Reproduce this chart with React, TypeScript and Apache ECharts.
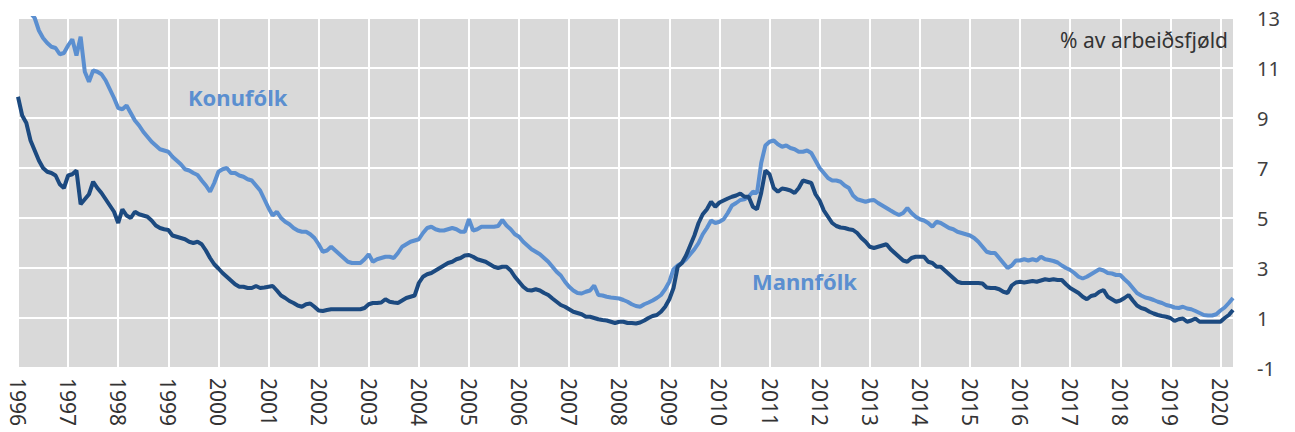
import React, { useEffect, useRef } from "react";
import * as echarts from "echarts";

const startYear = 1996;
const monthCount = 292;
const yTicks = [-1, 1, 3, 5, 7, 9, 11, 13];

const women: number[] = [
  // 1996
  14.4, 14.0, 13.6, 13.2, 13.0, 12.5, 12.2, 12.0, 11.85, 11.8, 11.55, 11.6,
  // 1997
  11.9, 12.15, 11.5, 12.25, 10.85, 10.45, 10.9, 10.85, 10.75, 10.5, 10.15, 9.8,
  // 1998
  9.4, 9.35, 9.5, 9.2, 8.9, 8.7, 8.45, 8.25, 8.05, 7.9, 7.75, 7.7,
  // 1999
  7.65, 7.45, 7.3, 7.15, 6.95, 6.9, 6.8, 6.72, 6.5, 6.3, 6.05, 6.4,
  // 2000
  6.85, 6.95, 7.0, 6.8, 6.8, 6.7, 6.65, 6.55, 6.5, 6.3, 6.1, 5.75,
  // 2001
  5.4, 5.1, 5.25, 5.0, 4.85, 4.75, 4.6, 4.5, 4.45, 4.45, 4.35, 4.2,
  // 2002
  3.95, 3.65, 3.7, 3.85, 3.7, 3.55, 3.4, 3.25, 3.2, 3.2, 3.2, 3.35,
  // 2003
  3.55, 3.25, 3.35, 3.4, 3.45, 3.45, 3.4, 3.6, 3.85, 3.95, 4.05, 4.1,
  // 2004
  4.15, 4.4, 4.6, 4.65, 4.55, 4.5, 4.5, 4.55, 4.6, 4.55, 4.45, 4.45,
  // 2005
  4.95, 4.5, 4.55, 4.65, 4.65, 4.65, 4.65, 4.68, 4.92, 4.7, 4.55, 4.35,
  // 2006
  4.25, 4.05, 3.9, 3.75, 3.65, 3.55, 3.4, 3.25, 3.05, 2.85, 2.7, 2.45,
  // 2007
  2.25, 2.1, 2.0, 1.98, 2.05, 2.1, 2.3, 1.92, 1.9, 1.85, 1.82, 1.8,
  // 2008
  1.78, 1.72, 1.65, 1.55, 1.48, 1.45, 1.55, 1.62, 1.7, 1.8, 1.92, 2.15,
  // 2009
  2.45, 2.95, 3.1, 3.2, 3.35, 3.55, 3.75, 4.0, 4.35, 4.6, 4.9, 4.8,
  // 2010
  4.85, 4.95, 5.2, 5.5, 5.6, 5.72, 5.75, 5.85, 6.05, 6.0, 7.2, 7.9,
  // 2011
  8.05, 8.1, 7.95, 7.85, 7.9, 7.8, 7.75, 7.65, 7.65, 7.7, 7.6, 7.3,
  // 2012
  7.0, 6.8, 6.6, 6.5, 6.5, 6.45, 6.3, 6.2, 5.9, 5.75, 5.7, 5.65,
  // 2013
  5.7, 5.72, 5.6, 5.5, 5.4, 5.3, 5.2, 5.12, 5.2, 5.4, 5.2, 5.05,
  // 2014
  4.95, 4.9, 4.8, 4.65, 4.85, 4.8, 4.7, 4.6, 4.55, 4.45, 4.4, 4.35,
  // 2015
  4.3, 4.2, 4.05, 3.85, 3.65, 3.6, 3.6, 3.4, 3.2, 3.0, 3.1, 3.3,
  // 2016
  3.3, 3.35, 3.3, 3.35, 3.3, 3.45, 3.35, 3.32, 3.28, 3.22, 3.1, 3.0,
  // 2017
  2.92, 2.8, 2.65, 2.58, 2.65, 2.75, 2.85, 2.95, 2.9, 2.8, 2.78, 2.72,
  // 2018
  2.72, 2.55, 2.4, 2.2, 2.0, 1.9, 1.82, 1.78, 1.72, 1.65, 1.6, 1.52,
  // 2019
  1.48, 1.42, 1.4, 1.45, 1.38, 1.35, 1.28, 1.2, 1.12, 1.1, 1.1, 1.15,
  // 2020
  1.3, 1.42, 1.6, 1.8,
];

const men: number[] = [
  // 1996
  9.85, 9.1, 8.8, 8.1, 7.7, 7.3, 7.0, 6.85, 6.8, 6.7, 6.35, 6.2,
  // 1997
  6.7, 6.75, 6.9, 5.55, 5.75, 5.95, 6.45, 6.2, 6.0, 5.75, 5.5, 5.25,
  // 1998
  4.8, 5.35, 5.1, 5.0, 5.25, 5.15, 5.1, 5.05, 4.9, 4.7, 4.6, 4.55,
  // 1999
  4.52, 4.3, 4.25, 4.2, 4.15, 4.05, 4.0, 4.05, 3.95, 3.7, 3.4, 3.15,
  // 2000
  2.98, 2.8, 2.65, 2.5, 2.35, 2.25, 2.25, 2.2, 2.2, 2.28, 2.2, 2.22,
  // 2001
  2.25, 2.28, 2.1, 1.9, 1.8, 1.68, 1.6, 1.5, 1.45, 1.55, 1.58, 1.45,
  // 2002
  1.3, 1.28, 1.32, 1.35, 1.35, 1.35, 1.35, 1.35, 1.35, 1.35, 1.35, 1.4,
  // 2003
  1.55, 1.6, 1.6, 1.62, 1.75, 1.65, 1.62, 1.6, 1.7, 1.8, 1.85, 1.9,
  // 2004
  2.4, 2.65, 2.75, 2.8, 2.9, 3.0, 3.1, 3.2, 3.25, 3.35, 3.4, 3.5,
  // 2005
  3.52, 3.45, 3.35, 3.3, 3.25, 3.15, 3.05, 3.0, 3.05, 3.05, 2.9, 2.65,
  // 2006
  2.45, 2.25, 2.12, 2.1, 2.15, 2.1, 2.0, 1.92, 1.78, 1.65, 1.52, 1.45,
  // 2007
  1.35, 1.25, 1.2, 1.15, 1.05, 1.05, 1.0, 0.95, 0.92, 0.9, 0.85, 0.8,
  // 2008
  0.85, 0.85, 0.8, 0.8, 0.78, 0.82, 0.9, 1.0, 1.08, 1.12, 1.25, 1.45,
  // 2009
  1.75, 2.2, 3.05, 3.2, 3.5, 3.9, 4.3, 4.8, 5.15, 5.35, 5.65, 5.45,
  // 2010
  5.62, 5.7, 5.78, 5.85, 5.9, 5.98, 5.85, 5.85, 5.45, 5.35, 6.0, 6.9,
  // 2011
  6.75, 6.2, 6.05, 6.18, 6.15, 6.1, 6.0, 6.2, 6.5, 6.45, 6.4, 5.95,
  // 2012
  5.7, 5.3, 5.05, 4.8, 4.68, 4.62, 4.6, 4.55, 4.52, 4.4, 4.2, 4.05,
  // 2013
  3.85, 3.8, 3.85, 3.9, 3.95, 3.75, 3.6, 3.45, 3.3, 3.25, 3.4, 3.45,
  // 2014
  3.45, 3.45, 3.25, 3.2, 3.05, 3.05, 2.9, 2.75, 2.6, 2.45, 2.4, 2.4,
  // 2015
  2.4, 2.4, 2.4, 2.38, 2.22, 2.2, 2.2, 2.15, 2.05, 2.0, 2.3, 2.42,
  // 2016
  2.45, 2.42, 2.45, 2.48, 2.45, 2.5, 2.55, 2.52, 2.55, 2.52, 2.52, 2.35,
  // 2017
  2.2, 2.1, 2.0, 1.85, 1.75, 1.88, 1.92, 2.05, 2.12, 1.85, 1.75, 1.65,
  // 2018
  1.7, 1.8, 1.92, 1.7, 1.5, 1.4, 1.35, 1.25, 1.18, 1.12, 1.08, 1.05,
  // 2019
  1.0, 0.88, 0.95, 0.98, 0.85, 0.9, 0.98, 0.85, 0.85, 0.85, 0.85, 0.85,
  // 2020
  0.85, 1.0, 1.12, 1.32,
];

const months: string[] = Array.from({ length: monthCount }, (_, i) => {
  const y = startYear + Math.floor(i / 12);
  const m = (i % 12) + 1;
  return `${y}-${m < 10 ? "0" + m : m}`;
});

const lightBlue = "#5b8fd0";
const darkBlue = "#1c4a80";
const font = "'Noto Sans', 'Open Sans', sans-serif";

export default function App() {
  const ref = useRef<HTMLDivElement>(null);
  useEffect(() => {
    if (!ref.current) return;
    const chart = echarts.init(ref.current, undefined, { renderer: "svg" });
    const isJan = (idx: number) => idx % 12 === 0;
    chart.setOption({
      animation: false,
      backgroundColor: "#ffffff",
      grid: {
        left: 18,
        right: 62,
        top: 18,
        bottom: 64,
        show: true,
        backgroundColor: "#d9d9d9",
        borderWidth: 0,
      },
      xAxis: {
        type: "category",
        data: months,
        boundaryGap: false,
        axisLine: { show: false },
        axisTick: { show: false },
        axisLabel: {
          interval: (idx: number) => isJan(idx),
          rotate: -90,
          margin: 10,
          fontSize: 21,
          fontFamily: font,
          color: "#333333",
          formatter: (v: string) => v.slice(0, 4),
        },
        splitLine: {
          show: true,
          interval: (idx: number) => isJan(idx),
          lineStyle: { color: "#ffffff", width: 2 },
        },
      },
      yAxis: {
        type: "value",
        position: "right",
        min: -1,
        max: 13,
        interval: 2,
        axisLine: { show: false },
        axisTick: { show: false },
        axisLabel: {
          margin: 24,
          fontSize: 20,
          fontFamily: font,
          color: "#404040",
          align: "left",
        },
        splitLine: { show: true, lineStyle: { color: "#ffffff", width: 2 } },
      },
      series: [
        {
          name: "Konufólk",
          type: "line",
          data: women,
          showSymbol: false,
          symbol: "none",
          clip: true,
          lineStyle: { color: lightBlue, width: 4 },
          z: 2,
        },
        {
          name: "Mannfólk",
          type: "line",
          data: men,
          showSymbol: false,
          symbol: "none",
          clip: true,
          lineStyle: { color: darkBlue, width: 4 },
          z: 3,
        },
      ],
      graphic: [
        {
          type: "text",
          left: 188,
          top: 86,
          z: 100,
          style: {
            text: "Konufólk",
            fill: lightBlue,
            font: `bold 22px ${font}`,
          },
        },
        {
          type: "text",
          left: 752,
          top: 270,
          z: 100,
          style: {
            text: "Mannfólk",
            fill: lightBlue,
            font: `bold 22px ${font}`,
          },
        },
        {
          type: "text",
          right: 67,
          top: 29,
          z: 100,
          style: {
            text: "% av arbeiðsfjøld",
            fill: "#333333",
            font: `21px ${font}`,
          },
        },
      ],
    });
    return () => chart.dispose();
  }, []);
  return (
    <div
      ref={ref}
      style={{ position: "fixed", left: 0, top: 0, width: 1295, height: 432 }}
    />
  );
}
